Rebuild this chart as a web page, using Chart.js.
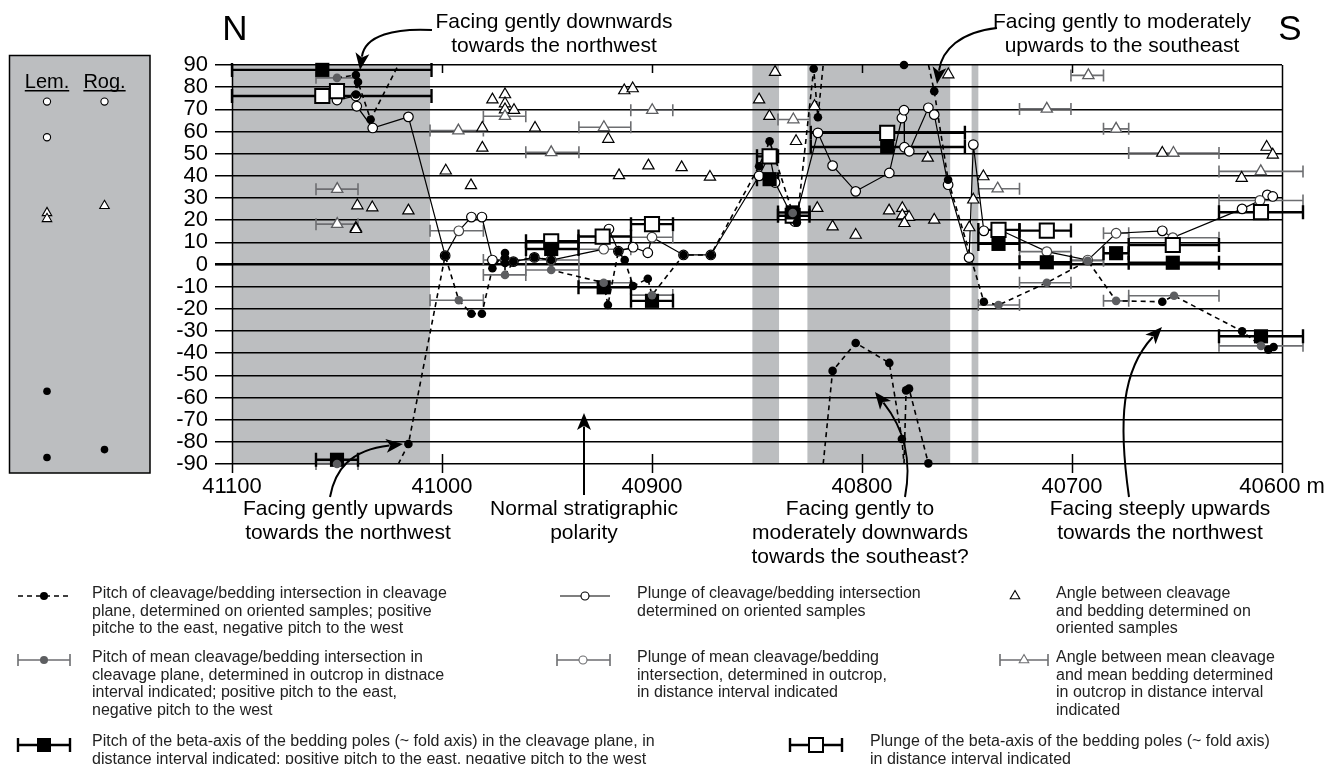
<!DOCTYPE html>
<html>
<head>
<meta charset="utf-8">
<title>Cleavage / bedding intersection along the section</title>
<script src="https://cdn.jsdelivr.net/npm/chart.js@4.4.1/dist/chart.umd.min.js"></script>
<style>
  html, body { margin: 0; padding: 0; background: #fff; }
  canvas { display: block; }
</style>
</head>
<body>
<canvas id="section" width="1329" height="764"></canvas>
<script>
// ---- section data (distance in m, angles in degrees) ----
const distanceTicks = [41100, 41000, 40900, 40800, 40700, 40600];
const angleTicks = [-90, -80, -70, -60, -50, -40, -30, -20, -10, 0, 10, 20, 30, 40, 50, 60, 70, 80, 90];
const shadedIntervals = [[41100, 41005.7], [40852.2, 40839.5], [40826, 40758], [40747.8, 40744.6]];

// pitch of cleavage/bedding intersection, oriented samples: [distance, pitch]
const pitchSamples = [
  [41041, 85.5], [41040, 82.3], [41041, 76.7], [41034, 65.4],
  [41016, -81], [40998.5, 4.0], [40986, -22.2], [40981, -22.2], [40976, -1.7],
  [40970, 5.2], [40970, 2.9], [40970, 0.7], [40966, 1.3], [40956, 3.2], [40948, 2.0],
  [40921, -18.3], [40916, 6.0], [40913, 2.0], [40909, -9.7], [40902, -6.4], [40885, 4.3], [40872, 4.3],
  [40849, 44.3], [40844, 55.6], [40831, 18.9], [40823, 88.3], [40821, 66.4],
  [40814, -48.0], [40803, -35.4], [40787, -44.4], [40781, -78.7], [40780, 90],
  [40779, -56.8], [40777.6, -56.0], [40768.4, -89.7], [40765.6, 78.2], [40759, 38.2],
  [40742, -16.8], [40657, -16.8], [40619, -30.1], [40606.5, -38.4], [40604, -37.2]
];
// pitch of mean intersection, outcrop: [distance, pitch, interval from, interval to]
const pitchOutcrop = [
  [41050, 84.2, 41060, 41040], [41050, -90, 41060, 41040],
  [40992, -16.1, 41005.7, 40980.3], [40970, -4.7, 40980.3, 40960.1],
  [40948, -2.5, 40960.1, 40934.8], [40923, -8.2, 40934.8, 40910.1],
  [40900, -13.8, 40910.1, 40890.1], [40833, 23.2, 40840, 40824.8],
  [40735, -18.3, 40744.6, 40725], [40712, -8.2, 40725, 40700.5],
  [40692.5, 1.7, 40700.5, 40685], [40679, -16.4, 40685, 40673],
  [40651.4, -14.1, 40673, 40630], [40610, -36.7, 40630, 40590]
];
// pitch of beta-axis of bedding poles: [distance, pitch, from, to]
const pitchBeta = [
  [41057, 87.8, 41100, 41005], [41050, -88.1, 41060, 41040],
  [40948, 7.0, 40960, 40935], [40923, -10.3, 40935, 40910],
  [40900, -16.4, 40910, 40890], [40844, 38.5, 40850, 40840],
  [40833, 23.5, 40840, 40825], [40788, 53.0, 40824.4, 40751],
  [40735, 9.3, 40744.6, 40725], [40712, 1.0, 40725, 40700.5],
  [40679, 5.1, 40685, 40673], [40652, 0.8, 40673, 40630],
  [40610, -32.4, 40630, 40590]
];
// plunge of intersection, oriented samples: [distance, plunge]
const plungeSamples = [
  [41050, 76.7], [41050, 74.2], [41041, 76.0], [41040.6, 71.4], [41033, 61.6], [41016, 66.6],
  [40998.5, 4.0], [40986, 21.4], [40981, 21.4], [40976, 2.0], [40966, 1.3], [40956, 3.2], [40948, 2.0],
  [40920.5, 16.0], [40916, 6.0], [40909, 7.8], [40902, 5.3], [40885, 4.3], [40872, 4.3],
  [40849, 40.0], [40844, 49.5], [40841.4, 37.0], [40832, 19.4],
  [40821, 59.4], [40814, 44.6], [40803, 33.0], [40787, 41.3], [40781, 66.1], [40780, 69.6],
  [40779.8, 52.9], [40777.5, 51.1], [40768.4, 70.7], [40765.6, 67.6], [40759, 36.0],
  [40749, 3.1], [40747, 54.1], [40742, 15.2], [40735, 15.9], [40657, 15.2],
  [40619, 25.1], [40607, 31.4], [40604.4, 30.7]
];
// plunge of mean intersection, outcrop: [distance, plunge, from, to]
const plungeOutcrop = [
  [40992, 15.2, 41005.7, 40980.3], [40970, 2.0, 40980.3, 40960.1],
  [40948, 2.0, 40960.1, 40934.8], [40923, 6.9, 40934.8, 40910.1],
  [40900, 12.3, 40910.1, 40890.1], [40712, 5.8, 40725, 40700.5],
  [40692.5, 2.0, 40700.5, 40685], [40679, 14.1, 40685, 40673],
  [40652, 12.1, 40673, 40630], [40610.5, 28.9, 40630, 40590]
];
// plunge of beta-axis of bedding poles: [distance, plunge, from, to]
const plungeBeta = [
  [41057, 76.0, 41100, 41005], [41050, 78.2, null, null],
  [40948, 10.5, 40960, 40935], [40923.5, 12.6, 40935, 40910],
  [40900, 18.2, 40910, 40890], [40844, 48.8, 40850, 40840],
  [40833, 22.0, 40840, 40825], [40788, 59.4, 40824.4, 40751],
  [40735, 15.6, 40744.6, 40725], [40712, 15.3, 40725, 40700.5],
  [40652, 8.8, 40673, 40630], [40610, 23.6, 40630, 40590]
];
// angle between cleavage and bedding, oriented samples: [distance, angle]
const angleSamples = [
  [41040.3, 26.6], [41033.2, 25.7], [41016, 24.3], [41041, 16.5], [41041, 15.9],
  [40998.2, 42.3], [40986.2, 35.7], [40980.8, 61.6], [40980.8, 52.6],
  [40976, 74.4], [40970, 76.7], [40970, 72.6], [40970, 69.9], [40965.7, 69.6],
  [40955.7, 61.6], [40920.8, 56.6], [40913.2, 78.5], [40909.2, 79.4],
  [40915.7, 40.2], [40901.7, 44.6], [40885.9, 43.8], [40872.4, 39.5],
  [40849, 74.4], [40841.4, 86.8], [40844.1, 66.9], [40831.4, 55.6],
  [40822.6, 71.4], [40821.3, 25.4], [40814, 17.1], [40803, 13.3], [40787.1, 24.3],
  [40780.8, 25.4], [40780.8, 22.1], [40777.6, 21.4], [40779.8, 18.6], [40765.6, 20.1],
  [40768.7, 48.1], [40758.9, 85.7], [40747, 29.2], [40748.9, 16.7], [40742.2, 39.7],
  [40657, 50.3], [40607.3, 53.0], [40604.4, 49.5], [40619.2, 39.0]
];
// angle between mean cleavage and mean bedding, outcrop: [distance, angle, from, to]
const angleOutcrop = [
  [41049.9, 34.0, 41060, 41040], [41049.9, 18.2, 41060, 41040],
  [40992.2, 60.4, 41005.7, 40980.3], [40970, 66.9, 40980.3, 40960.1],
  [40948, 50.6, 40960.1, 40934.8], [40922.9, 61.9, 40934.8, 40910.1],
  [40899.9, 69.6, 40910.1, 40890.1], [40832.7, 65.4, 40840, 40824.8],
  [40735.4, 34.2, 40744.6, 40725], [40712, 70.2, 40725, 40700.5],
  [40692.2, 85.3, 40700.5, 40685], [40679, 61.2, 40685, 40673],
  [40651.7, 50.3, 40673, 40630], [40610.1, 42.0, 40630, 40590]
];
// reference column (Lem. / Rog.)
const lemPlunge = [73.5, 57.4];
const rogPlunge = [73.5];
const lemAngle = [23.3, 20.6];
const rogAngle = [26.5];
const lemPitch = [-57.2, -87.1];
const rogPitch = [-83.5];

// ---- styling ----
const FONT = "'Liberation Sans', Arial, Helvetica, sans-serif";
const BAND = '#bcbec0';
const MARK_GRAY = '#5d5e61';
const BAR_GRAY = '#6d6e71';

const pts = rows => rows.map(r => ({ x: r[0], y: r[1] }));
const byDistance = rows => rows.map(r => [r[0], r[1]]).sort((a, b) => b[0] - a[0]);

// pitch is axial (mod 180): neighbours are joined the short way round, breaking at ±90
function axialPath(rows) {
  const out = [];
  rows.forEach((r, i) => {
    const [x, y] = r;
    if (i > 0) {
      const [px, py] = rows[i - 1];
      let d = y - py;
      if (d > 90) d -= 180; else if (d < -90) d += 180;
      const end = py + d;
      if (end > 90 || end < -90) {
        const edge = end > 90 ? 90 : -90;
        const t = (edge - py) / d;
        const cx = px + t * (x - px);
        out.push({ x: cx, y: edge }, { x: cx, y: null }, { x: cx, y: -edge });
      } else if (Math.abs(end - y) > 1e-6) {
        out.push({ x: x, y: end }, { x: x, y: null });
      }
    }
    out.push({ x: x, y: y });
  });
  return out;
}

const pitchLine = axialPath(byDistance(pitchSamples.concat(pitchOutcrop.filter(r => Math.abs(r[1]) < 90))));
const plungeLine = byDistance(plungeSamples.concat(plungeOutcrop)).map(r => ({ x: r[0], y: r[1] }));

function drawBars(ctx, xs, ys, rows, color, width, cap) {
  ctx.save();
  ctx.strokeStyle = color;
  ctx.lineWidth = width;
  rows.forEach(r => {
    if (r[2] == null) return;
    const y = ys.getPixelForValue(r[1]);
    const x1 = xs.getPixelForValue(r[2]);
    const x2 = xs.getPixelForValue(r[3]);
    ctx.beginPath();
    ctx.moveTo(x1, y); ctx.lineTo(x2, y);
    ctx.moveTo(x1, y - cap); ctx.lineTo(x1, y + cap);
    ctx.moveTo(x2, y - cap); ctx.lineTo(x2, y + cap);
    ctx.stroke();
  });
  ctx.restore();
}

function circle(ctx, x, y, r, fill, stroke, lw) {
  ctx.beginPath(); ctx.arc(x, y, r, 0, Math.PI * 2);
  ctx.fillStyle = fill; ctx.fill();
  if (stroke) { ctx.strokeStyle = stroke; ctx.lineWidth = lw; ctx.stroke(); }
}
function triangle(ctx, x, y, r, fill, stroke, lw) {
  ctx.beginPath();
  ctx.moveTo(x, y - r);
  ctx.lineTo(x + r * 0.866, y + r * 0.5);
  ctx.lineTo(x - r * 0.866, y + r * 0.5);
  ctx.closePath();
  ctx.fillStyle = fill; ctx.fill();
  ctx.strokeStyle = stroke; ctx.lineWidth = lw; ctx.stroke();
}
function square(ctx, x, y, h, fill, stroke, lw) {
  ctx.fillStyle = fill; ctx.fillRect(x - h, y - h, 2 * h, 2 * h);
  if (stroke) { ctx.strokeStyle = stroke; ctx.lineWidth = lw; ctx.strokeRect(x - h, y - h, 2 * h, 2 * h); }
}
function legendBar(ctx, x1, x2, y, color, lw, cap) {
  ctx.save(); ctx.strokeStyle = color; ctx.lineWidth = lw;
  ctx.beginPath();
  ctx.moveTo(x1, y); ctx.lineTo(x2, y);
  ctx.moveTo(x1, y - cap); ctx.lineTo(x1, y + cap);
  ctx.moveTo(x2, y - cap); ctx.lineTo(x2, y + cap);
  ctx.stroke(); ctx.restore();
}
function arrow(ctx, p) {
  // p: [x0,y0, c1x,c1y, c2x,c2y, x1,y1]
  ctx.save();
  ctx.strokeStyle = '#000'; ctx.fillStyle = '#000'; ctx.lineWidth = 2;
  const [x0, y0, a, b, c, d, x1, y1] = p;
  const ang = Math.atan2(y1 - d, x1 - c);
  const L = 17, W = 7;
  const bx = x1 - L * 0.8 * Math.cos(ang), by = y1 - L * 0.8 * Math.sin(ang);
  ctx.beginPath(); ctx.moveTo(x0, y0); ctx.bezierCurveTo(a, b, c, d, bx, by); ctx.stroke();
  ctx.beginPath();
  ctx.moveTo(x1, y1);
  ctx.lineTo(x1 - L * Math.cos(ang) + W * Math.sin(ang), y1 - L * Math.sin(ang) - W * Math.cos(ang));
  ctx.lineTo(x1 - L * 0.75 * Math.cos(ang), y1 - L * 0.75 * Math.sin(ang));
  ctx.lineTo(x1 - L * Math.cos(ang) - W * Math.sin(ang), y1 - L * Math.sin(ang) + W * Math.cos(ang));
  ctx.closePath(); ctx.fill();
  ctx.restore();
}

// ---- annotations ----
const notes = [
  { lines: ['Facing gently downwards', 'towards the northwest'], x: 554, y: 22 },
  { lines: ['Facing gently to moderately', 'upwards to the southeast'], x: 1122, y: 22 },
  { lines: ['Facing gently upwards', 'towards the northwest'], x: 348, y: 509 },
  { lines: ['Normal stratigraphic', 'polarity'], x: 584, y: 509 },
  { lines: ['Facing gently to', 'moderately downwards', 'towards the southeast?'], x: 860, y: 509 },
  { lines: ['Facing steeply upwards', 'towards the northwest'], x: 1160, y: 509 }
];
const arrows = [
  [432, 30, 395, 28, 365, 35, 360, 70],
  [997, 28, 960, 32, 942, 50, 937, 84],
  [330, 497, 335, 470, 350, 450, 403, 444],
  [584, 495, 584, 470, 584, 440, 584, 413],
  [905, 497, 912, 460, 905, 430, 875, 392],
  [1129, 497, 1118, 420, 1122, 370, 1162, 327]
];
const legendItems = [
  { x: 92, y: 594, lines: ['Pitch of cleavage/bedding intersection in cleavage', 'plane, determined on oriented samples; positive', 'pitche to the east, negative pitch to the west'] },
  { x: 92, y: 658, lines: ['Pitch of mean cleavage/bedding intersection in', 'cleavage plane, determined in outcrop in distnace', 'interval indicated; positive pitch to the east,', 'negative pitch to the west'] },
  { x: 92, y: 742, lines: ['Pitch of the beta-axis of the bedding poles (~ fold axis) in the cleavage plane, in', 'distance interval indicated; positive pitch to the east, negative pitch to the west'] },
  { x: 637, y: 594, lines: ['Plunge of cleavage/bedding intersection', 'determined on oriented samples'] },
  { x: 637, y: 658, lines: ['Plunge of mean cleavage/bedding', 'intersection, determined in outcrop,', 'in distance interval indicated'] },
  { x: 870, y: 742, lines: ['Plunge of the beta-axis of the bedding poles (~ fold axis)', 'in distance interval indicated'] },
  { x: 1056, y: 594, lines: ['Angle between cleavage', 'and bedding determined on', 'oriented samples'] },
  { x: 1056, y: 658, lines: ['Angle between mean cleavage', 'and mean bedding determined', 'in outcrop in distance interval', 'indicated'] }
];

const backdrop = {
  id: 'backdrop',
  beforeDraw(chart) {
    const { ctx, chartArea: a, scales: { x } } = chart;
    ctx.save();
    ctx.fillStyle = '#fff';
    ctx.fillRect(0, 0, chart.width, chart.height);
    ctx.fillStyle = BAND;
    shadedIntervals.forEach(([f, t]) => {
      const x1 = x.getPixelForValue(f), x2 = x.getPixelForValue(t);
      ctx.fillRect(Math.min(x1, x2), a.top, Math.abs(x2 - x1), a.bottom - a.top);
    });
    // reference column box
    ctx.fillRect(9.5, 55.5, 140.5, 417.5);
    ctx.strokeStyle = '#000'; ctx.lineWidth = 1.5;
    ctx.strokeRect(9.5, 55.5, 140.5, 417.5);
    ctx.restore();
  }
};

const frame = {
  id: 'frame',
  beforeDatasetsDraw(chart) {
    const { ctx, chartArea: a, scales: { x, y } } = chart;
    ctx.save();
    ctx.strokeStyle = '#000'; ctx.lineWidth = 1.5;
    distanceTicks.forEach(v => {
      const px = Math.round(x.getPixelForValue(v)) + 0.5;
      ctx.beginPath();
      if (v === 41100 || v === 40600) {
        ctx.moveTo(px, a.top); ctx.lineTo(px, a.bottom + 9);
      } else {
        ctx.moveTo(px, a.top); ctx.lineTo(px, a.top + 8);
        ctx.moveTo(px, a.bottom - 10); ctx.lineTo(px, a.bottom + 9);
      }
      ctx.stroke();
    });
    ctx.restore();
    drawBars(ctx, x, y, angleOutcrop, BAR_GRAY, 1.6, 6);
    drawBars(ctx, x, y, plungeOutcrop, BAR_GRAY, 1.6, 6);
    drawBars(ctx, x, y, pitchOutcrop, BAR_GRAY, 1.6, 6);
    drawBars(ctx, x, y, plungeBeta, '#000', 2.4, 7);
    drawBars(ctx, x, y, pitchBeta, '#000', 2.4, 7);
  }
};

const overlay = {
  id: 'overlay',
  afterDraw(chart) {
    const { ctx, scales: { y } } = chart;
    ctx.save();
    // reference column contents
    ctx.fillStyle = '#000';
    ctx.font = `20px ${FONT}`;
    ctx.textAlign = 'center'; ctx.textBaseline = 'middle';
    [['Lem.', 47], ['Rog.', 104.5]].forEach(([t, cx]) => {
      ctx.fillText(t, cx, 82);
      const w = ctx.measureText(t).width;
      ctx.fillRect(cx - w / 2, 90, w, 1.5);
    });
    const colX = { lem: 47, rog: 104.5 };
    lemPlunge.forEach(v => circle(ctx, colX.lem, y.getPixelForValue(v), 3.6, '#fff', '#000', 1.1));
    rogPlunge.forEach(v => circle(ctx, colX.rog, y.getPixelForValue(v), 3.6, '#fff', '#000', 1.1));
    lemAngle.forEach(v => triangle(ctx, colX.lem, y.getPixelForValue(v), 5.5, '#fff', '#000', 1.1));
    rogAngle.forEach(v => triangle(ctx, colX.rog, y.getPixelForValue(v), 5.5, '#fff', '#000', 1.1));
    lemPitch.forEach(v => circle(ctx, colX.lem, y.getPixelForValue(v), 3.8, '#000'));
    rogPitch.forEach(v => circle(ctx, colX.rog, y.getPixelForValue(v), 3.8, '#000'));

    // compass letters
    ctx.fillStyle = '#000';
    ctx.font = `35px ${FONT}`;
    ctx.fillText('N', 235, 30);
    ctx.fillText('S', 1290, 30);

    // annotations
    ctx.font = `21px ${FONT}`;
    notes.forEach(n => n.lines.forEach((t, i) => ctx.fillText(t, n.x, n.y + i * 24)));
    arrows.forEach(p => arrow(ctx, p));

    // legend
    ctx.fillStyle = '#222';
    ctx.font = `16px ${FONT}`;
    ctx.textAlign = 'left';
    legendItems.forEach(it => it.lines.forEach((t, i) => ctx.fillText(t, it.x, it.y + i * 17.5)));

    // legend symbols
    ctx.save();
    ctx.strokeStyle = '#000'; ctx.lineWidth = 1.6; ctx.setLineDash([5, 4]);
    ctx.beginPath(); ctx.moveTo(18, 596); ctx.lineTo(70, 596); ctx.stroke();
    ctx.restore();
    circle(ctx, 44, 596, 4, '#000');
    ctx.strokeStyle = '#000'; ctx.lineWidth = 1.2;
    ctx.beginPath(); ctx.moveTo(560, 596); ctx.lineTo(610, 596); ctx.stroke();
    circle(ctx, 585, 596, 4, '#fff', '#000', 1.1);
    triangle(ctx, 1015, 596, 5.5, '#fff', '#000', 1.1);

    legendBar(ctx, 18, 70, 660, BAR_GRAY, 1.6, 6);
    circle(ctx, 44, 660, 4, MARK_GRAY);
    legendBar(ctx, 557, 610, 660, BAR_GRAY, 1.6, 6);
    circle(ctx, 583, 660, 4, '#fff', BAR_GRAY, 1.1);
    legendBar(ctx, 1000, 1048, 660, BAR_GRAY, 1.6, 6);
    triangle(ctx, 1024, 660, 5.5, '#fff', BAR_GRAY, 1.1);

    legendBar(ctx, 18, 70, 745, '#000', 2.4, 7);
    square(ctx, 44, 745, 7, '#000');
    legendBar(ctx, 790, 842, 745, '#000', 2.4, 7);
    square(ctx, 816, 745, 7, '#fff', '#000', 2);
    ctx.restore();
  }
};

const lineSet = (data, dash, width, order) => ({
  type: 'scatter', data, showLine: true, borderColor: '#000', borderWidth: width,
  borderDash: dash, pointRadius: 0, spanGaps: false, order, tension: 0
});
const markSet = (rows, style, radius, fill, stroke, width, order) => ({
  type: 'scatter', data: pts(rows), pointStyle: style, pointRadius: radius,
  backgroundColor: fill, borderColor: stroke, borderWidth: width, order, clip: false
});

new Chart(document.getElementById('section'), {
  type: 'scatter',
  data: {
    datasets: [
      markSet(pitchSamples, 'circle', 4.3, '#000', '#000', 0, 1),
      markSet(pitchOutcrop, 'circle', 4.3, MARK_GRAY, MARK_GRAY, 0, 2),
      markSet(pitchBeta, 'rect', 10, '#000', '#000', 0, 3),
      markSet(plungeBeta, 'rect', 10, '#fff', '#000', 2, 4),
      markSet(plungeOutcrop, 'circle', 4.8, '#fff', '#444', 1.2, 5),
      markSet(plungeSamples, 'circle', 4.8, '#fff', '#000', 1.2, 6),
      markSet(angleOutcrop, 'triangle', 6.5, '#fff', MARK_GRAY, 1.3, 7),
      markSet(angleSamples, 'triangle', 6.5, '#fff', '#000', 1.2, 8),
      lineSet(plungeLine, [], 1.2, 9),
      lineSet(pitchLine, [5, 4], 1.6, 10)
    ]
  },
  options: {
    responsive: false,
    animation: false,
    devicePixelRatio: 1,
    layout: { padding: { left: 0, top: 65, right: 47, bottom: 0 } },
    plugins: { legend: { display: false }, tooltip: { enabled: false } },
    scales: {
      x: {
        type: 'linear', reverse: true, min: 40600, max: 41100,
        afterBuildTicks: s => { s.ticks = distanceTicks.map(v => ({ value: v })); },
        afterFit: s => { s.height = 300; s.paddingLeft = 0; s.paddingRight = 0; },
        grid: { display: false }, border: { display: false },
        ticks: {
          color: '#000', font: { family: FONT, size: 22 }, padding: 2,
          maxRotation: 0, autoSkip: false,
          callback: v => (v === 40600 ? '40600 m' : String(v))
        }
      },
      y: {
        min: -90, max: 90,
        afterBuildTicks: s => { s.ticks = angleTicks.map(v => ({ value: v })); },
        afterFit: s => { s.width = 232; },
        border: { display: false },
        grid: {
          color: '#000', tickLength: 17,
          lineWidth: c => (c.tick && c.tick.value === 0 ? 2.6 : 1.5)
        },
        ticks: { color: '#000', font: { family: FONT, size: 22 }, padding: 7, autoSkip: false }
      }
    }
  },
  plugins: [backdrop, frame, overlay]
});
</script>
</body>
</html>
